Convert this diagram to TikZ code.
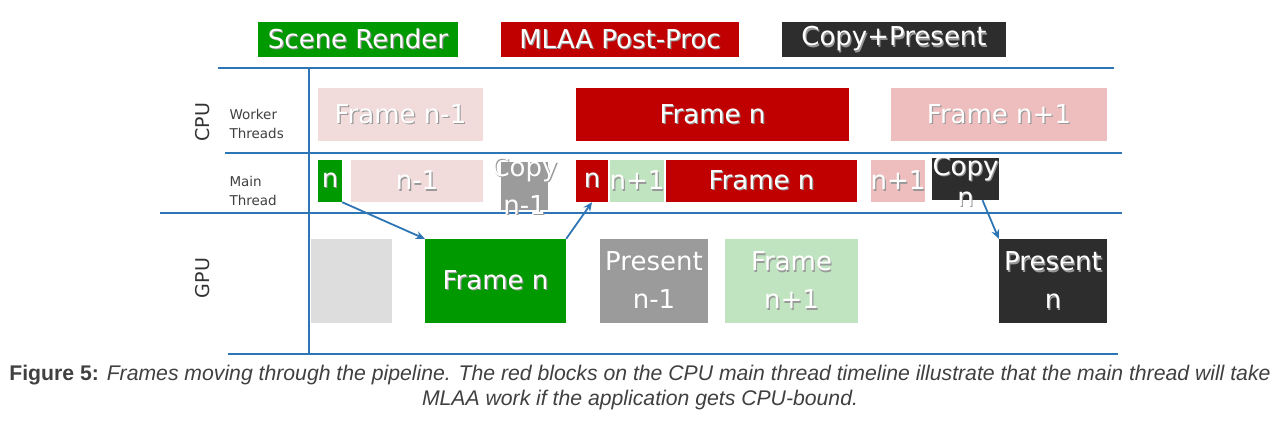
\documentclass[tikz,border=0pt]{standalone}
\usepackage{fontspec}
\setmainfont{DejaVu Sans}
\newfontfamily\capfont{Liberation Sans}
\usetikzlibrary{arrows.meta}

\definecolor{scenegreen}{RGB}{0,153,0}
\definecolor{mlaared}{RGB}{192,0,0}
\definecolor{copydark}{RGB}{45,45,45}
\definecolor{copygray}{RGB}{155,155,155}
\definecolor{idlegray}{RGB}{221,221,221}
\definecolor{pinklight}{RGB}{242,220,219}
\definecolor{pinkmid}{RGB}{238,190,190}
\definecolor{greenlight}{RGB}{192,228,192}
\definecolor{gridblue}{RGB}{46,117,182}
\definecolor{captext}{RGB}{64,64,64}

% white text with a soft drop shadow
\newcommand\shtxt[1]{\leavevmode\rlap{\raisebox{-1.2pt}{\kern1.2pt\textcolor{black!40}{#1}}}#1}

\begin{document}
\begin{tikzpicture}[x=1pt,y=-1pt,
    blk/.style={rectangle, inner sep=0pt, text=white, align=center,
      font=\fontsize{26}{38}\selectfont},
    legend/.style={blk, minimum height=35pt, font=\fontsize{26}{30}\selectfont},
    rowlbl/.style={align=left, anchor=west, text=black!75,
      font=\fontsize{13.5}{19}\selectfont},
    unitlbl/.style={rotate=90, text=black!80, font=\fontsize{19}{20}\selectfont},
    grid/.style={draw=gridblue, line width=2pt},
    flow/.style={draw=gridblue, line width=1.8pt, -{Stealth[length=9pt,width=8pt]}}]

  \useasboundingbox (0,0) rectangle (1280,422);

  % legend
  \node[legend, fill=scenegreen, minimum width=200pt] (legScene) at (358,39.5) {\shtxt{Scene Render}};
  \node[legend, fill=mlaared, minimum width=238pt] (legMlaa) at (620,39.5) {\shtxt{MLAA Post-Proc}};
  \node[legend, fill=copydark, minimum width=224pt] (legCopy) at (894,39.5) {\shtxt{Copy+Present}};

  % timeline grid
  \draw[grid] (218,68) -- (1114,68);
  \draw[grid] (225,153) -- (1122,153);
  \draw[grid] (160,213) -- (1122,213);
  \draw[grid] (228,354) -- (1118,354);
  \draw[grid] (309,68) -- (309,354);

  % row labels
  \node[unitlbl] (cpu) at (203,122) {CPU};
  \node[unitlbl] (gpu) at (203,278) {GPU};
  \node[rowlbl] (worker) at (226,124) {Worker\\Threads};
  \node[rowlbl] (mainth) at (226,191) {Main\\Thread};

  % CPU worker threads
  \node[blk, fill=pinklight, minimum width=165pt, minimum height=53pt] (wPrev) at (400.5,114.5) {\shtxt{Frame n-1}};
  \node[blk, fill=mlaared, minimum width=273pt, minimum height=53pt] (wCur) at (712.5,114.5) {\shtxt{Frame n}};
  \node[blk, fill=pinkmid, minimum width=216pt, minimum height=53pt] (wNext) at (999,114.5) {\shtxt{Frame n+1}};

  % CPU main thread
  \node[blk, fill=scenegreen, minimum width=24pt, minimum height=42pt] (mN) at (330,181) {\shtxt{n}};
  \node[blk, fill=pinklight, minimum width=132pt, minimum height=42pt] (mPrev) at (417,181) {\shtxt{n-1}};
  \node[blk, fill=copygray, minimum width=47pt, minimum height=48pt] (mCopyPrev) at (524.5,186) {};
  \node[blk] (mCopyPrevTxt) at (524.5,186) {\shtxt{Copy}\\\shtxt{n-1}};
  \node[blk, fill=mlaared, minimum width=32pt, minimum height=42pt] (mCur) at (592,181) {\shtxt{n}};
  \node[blk, fill=greenlight, minimum width=40pt, minimum height=42pt] (mNextG) at (637,181) {\shtxt{n+1}};
  \node[blk, fill=mlaared, minimum width=191pt, minimum height=42pt] (mFrame) at (761.5,181) {\shtxt{Frame n}};
  \node[blk, fill=pinkmid, minimum width=50pt, minimum height=42pt] (mNextP) at (898,181) {\shtxt{n+1}};
  \node[blk, fill=copydark, minimum width=67pt, minimum height=42pt] (mCopy) at (965.5,179) {};
  \node[blk, font=\fontsize{26}{31}\selectfont] (mCopyTxt) at (965.5,182) {\shtxt{Copy}\\\shtxt{n}};

  % GPU
  \node[blk, fill=idlegray, minimum width=81pt, minimum height=84pt] (gIdle) at (351.5,281) {};
  \node[blk, fill=scenegreen, minimum width=141pt, minimum height=84pt] (gCur) at (495.5,281) {\shtxt{Frame n}};
  \node[blk, fill=copygray, minimum width=108pt, minimum height=84pt] (gPres) at (654,281) {\shtxt{Present}\\\shtxt{n-1}};
  \node[blk, fill=greenlight, minimum width=133pt, minimum height=84pt] (gNext) at (791.5,281) {\shtxt{Frame}\\\shtxt{n+1}};
  \node[blk, fill=copydark, minimum width=108pt, minimum height=84pt] (gPresN) at (1053,281) {\shtxt{Present}\\\shtxt{n}};

  % hand-offs
  \draw[flow] (mN.south east) -- (gCur.north west);
  \draw[flow] (gCur.north east) -- (mCur.south);
  \draw[flow] ([xshift=17pt]mCopy.south) -- (gPresN.north west);

  % caption
  \node[align=center, text=captext, font=\capfont\fontsize{21.2}{25}\selectfont] (caption) at (640,388)
    {\textbf{Figure 5:} \textit{Frames moving through the pipeline. The red blocks on the CPU main thread timeline illustrate that the main thread will take}\\
     \textit{MLAA work if the application gets CPU-bound.}};
\end{tikzpicture}
\end{document}
